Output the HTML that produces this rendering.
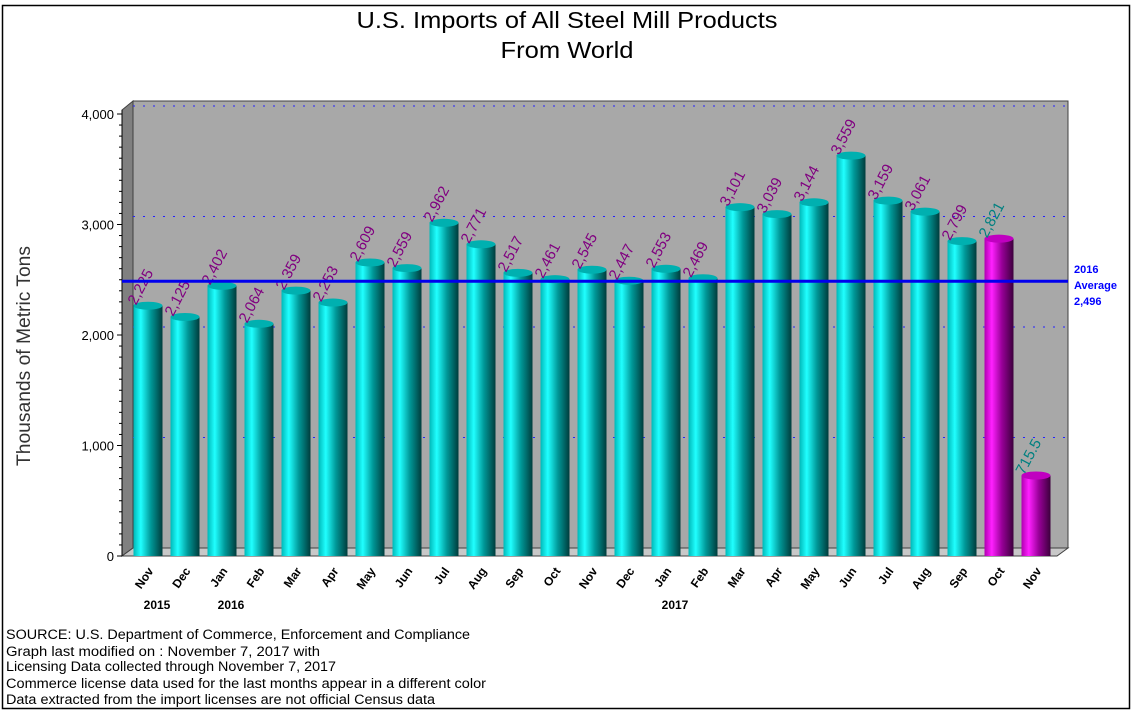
<!DOCTYPE html>
<html><head><meta charset="utf-8"><style>
html,body{margin:0;padding:0;background:#fff;}
svg{display:block;font-family:"Liberation Sans",Arial,sans-serif;}
</style></head><body>
<svg id="chart" width="1140" height="722" viewBox="0 0 1140 722">
<defs>
<linearGradient id="gc" x1="0" x2="1" y1="0" y2="0">
<stop offset="0" stop-color="#00b8b8"/><stop offset="0.25" stop-color="#20ffff"/><stop offset="0.6" stop-color="#009898"/><stop offset="1" stop-color="#003c3c"/></linearGradient>
<linearGradient id="gm" x1="0" x2="1" y1="0" y2="0">
<stop offset="0" stop-color="#b000b0"/><stop offset="0.25" stop-color="#ff20ff"/><stop offset="0.6" stop-color="#980098"/><stop offset="1" stop-color="#3c003c"/></linearGradient>
</defs>
<rect x="2.5" y="5.5" width="1127" height="703" fill="#fff" stroke="#000" stroke-width="1.5"/>
<text x="567" y="28" font-size="23" text-anchor="middle" textLength="421" lengthAdjust="spacingAndGlyphs">U.S. Imports of All Steel Mill Products</text>
<text x="567" y="58" font-size="23" text-anchor="middle" textLength="133" lengthAdjust="spacingAndGlyphs">From World</text>
<polygon points="133,101 1068,101 1068,548 133,548" fill="#a8a8a8" stroke="#404040"/>
<polygon points="122,110 133,101 133,548 122,556" fill="#808080" stroke="#404040"/>
<polygon points="122,556 133,548 1068,548 1057,556" fill="#c8c8c8" stroke="#404040"/>
<g id="grid"></g><g id="yaxis"></g><g id="bars"></g><g id="avg"></g><g id="xaxis"></g>
<text transform="translate(30,356) rotate(-90)" font-size="19" fill="#333" text-anchor="middle" textLength="220" lengthAdjust="spacingAndGlyphs">Thousands of Metric Tons</text>
<text x="1074" y="273" font-size="11" font-weight="bold" fill="#0000ff">2016</text>
<text x="1074" y="289" font-size="11" font-weight="bold" fill="#0000ff">Average</text>
<text x="1074" y="305" font-size="11" font-weight="bold" fill="#0000ff">2,496</text>
<g font-size="13.5" fill="#000">
<text x="6" y="639" textLength="464" lengthAdjust="spacingAndGlyphs">SOURCE: U.S. Department of Commerce, Enforcement and Compliance</text>
<text x="6" y="656" textLength="314" lengthAdjust="spacingAndGlyphs">Graph last modified on : November 7, 2017   with</text>
<text x="6" y="671" textLength="330" lengthAdjust="spacingAndGlyphs">Licensing Data collected through November 7, 2017</text>
<text x="6" y="688" textLength="480" lengthAdjust="spacingAndGlyphs">Commerce license data used for the last months appear in a different color</text>
<text x="6" y="704" textLength="429" lengthAdjust="spacingAndGlyphs">Data extracted from the import licenses are not official Census data</text>
</g>
</svg>
<script>
const months=["Nov","Dec","Jan","Feb","Mar","Apr","May","Jun","Jul","Aug","Sep","Oct","Nov","Dec","Jan","Feb","Mar","Apr","May","Jun","Jul","Aug","Sep","Oct","Nov"];
const values=[2225,2125,2402,2064,2359,2253,2609,2559,2962,2771,2517,2461,2545,2447,2553,2469,3101,3039,3144,3559,3159,3061,2799,2821,715.5];
const labels=["2,225","2,125","2,402","2,064","2,359","2,253","2,609","2,559","2,962","2,771","2,517","2,461","2,545","2,447","2,553","2,469","3,101","3,039","3,144","3,559","3,159","3,061","2,799","2,821","715.5"];
const licenseFlags=[0,0,0,0,0,0,0,0,0,0,0,0,0,0,0,0,0,0,0,0,0,0,0,1,1];
const yTicks=[0,1000,2000,3000,4000];
const yTickLabels=["0","1,000","2,000","3,000","4,000"];
const yearLabels=[[0,"2015"],[2,"2016"],[14,"2017"]];
const average=2496;
const NS="http://www.w3.org/2000/svg";
const n=values.length;
function y(v){return 556-v*0.1105;}
function yb(v){return 556-v*0.1125;}
function x(i){return 148+i*((1036-148)/(n-1));}
function mk(tag,attrs,parent){const e=document.createElementNS(NS,tag);for(const k in attrs)e.setAttribute(k,attrs[k]);parent.appendChild(e);return e;}
const grid=document.getElementById('grid'),ya=document.getElementById('yaxis'),bars=document.getElementById('bars'),xa=document.getElementById('xaxis'),avg=document.getElementById('avg');
mk('line',{x1:122,y1:110,x2:122,y2:556,stroke:'#000'},ya);
yTicks.forEach((t,i)=>{
 const yy=y(t);
 if(t>0){const g=mk('line',{x1:133,y1:yy-8,x2:1068,y2:yy-8,stroke:'#2222ff','stroke-dasharray':'2 8'},grid);
 
 }
 const tl=mk('text',{x:114,y:yy+5,'font-size':13,'text-anchor':'end'},ya);tl.textContent=yTickLabels[i];
 
 
 mk('line',{x1:117,y1:yy,x2:122,y2:yy,stroke:'#000'},ya);
});
for(let v=100;v<4000;v+=100){if(v%1000)mk('line',{x1:119,y1:y(v),x2:122,y2:y(v),stroke:'#000'},ya);}
values.forEach((v,i)=>{
 const cx=x(i),w=29,top=yb(v),lic=licenseFlags[i];
 const g=mk('g',{},bars);
 
 
 mk('rect',{x:cx-w/2,y:top,width:w,height:556-top,fill:lic?'url(#gm)':'url(#gc)'},g);
 mk('ellipse',{cx:cx,cy:top,rx:w/2,ry:4,fill:lic?'#c000c0':'#00b0b0'},g);
 const t=mk('text',{transform:`translate(${cx-12},${top}) rotate(-62)`,'font-size':15,fill:lic?'#008080':'#800080'},g);
 t.textContent=labels[i];
 
 
 const m=mk('text',{transform:`translate(${cx+6},${571}) rotate(-55)`,'font-size':12,'font-weight':'bold','text-anchor':'end'},xa);
 m.textContent=months[i];
 
 
});
yearLabels.forEach(([i,lab])=>{const t=mk('text',{x:x(i)+9,y:609,'font-size':12,'font-weight':'bold','text-anchor':'middle'},xa);t.textContent=lab;
 
 });
const al=mk('line',{x1:122,y1:y(average)+1,x2:1068,y2:y(average)+1,stroke:'#0000ee','stroke-width':3},avg);


</script>
</body></html>
